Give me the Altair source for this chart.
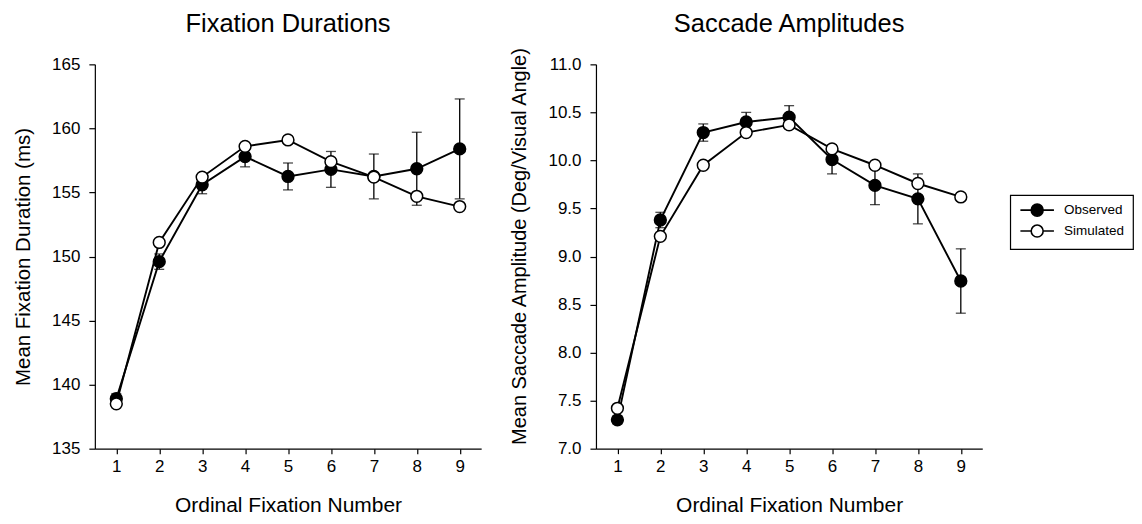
import altair as alt
import pandas as pd

# ---------------- data ----------------
fixation_numbers = [1, 2, 3, 4, 5, 6, 7, 8, 9]

fix_observed = [138.9, 149.6, 155.6, 157.8, 156.25, 156.8, 156.25, 156.85, 158.4]
fix_observed_err = [0.4, 0.6, 0.7, 0.8, 1.05, 1.4, 1.75, 2.85, 3.9]
fix_simulated = [138.5, 151.1, 156.2, 158.6, 159.1, 157.4, 156.2, 154.7, 153.9]

sac_observed = [7.30, 9.38, 10.29, 10.40, 10.45, 10.01, 9.74, 9.60, 8.745]
sac_observed_err = [0.04, 0.08, 0.09, 0.10, 0.12, 0.15, 0.20, 0.26, 0.335]
sac_simulated = [7.42, 9.21, 9.95, 10.29, 10.37, 10.12, 9.95, 9.76, 9.62]

series_names = ["Observed", "Simulated"]
fix_ticks = [135, 140, 145, 150, 155, 160, 165]
sac_ticks = [7.0, 7.5, 8.0, 8.5, 9.0, 9.5, 10.0, 10.5, 11.0]


def build_frame(obs, obs_err, sim):
    rows = []
    for x, v, e in zip(fixation_numbers, obs, obs_err):
        rows.append({"x": x, "y": v, "err": e, "series": "Observed"})
    for x, v in zip(fixation_numbers, sim):
        rows.append({"x": x, "y": v, "err": None, "series": "Simulated"})
    return pd.DataFrame(rows)


fix_df = build_frame(fix_observed, fix_observed_err, fix_simulated)
sac_df = build_frame(sac_observed, sac_observed_err, sac_simulated)

FONT = "Liberation Sans"
LEGEND_PATH = "M-2.8,0L-1,0M1,0L2.8,0M-1,0A1,1,0,1,1,1,0A1,1,0,1,1,-1,0Z"


def panel(df, title, ytitle, ydomain, yvalues, fmt, ytitle_size, title_offset, ytitle_y=None):
    xenc = alt.X(
        "x:Q",
        scale=alt.Scale(domain=[0.5, 9.5], nice=False, zero=False),
        axis=alt.Axis(values=fixation_numbers, format="d", title="Ordinal Fixation Number",
                      tickSize=5, labelPadding=5, titlePadding=20),
    )
    axis_kw = dict(values=yvalues, format=fmt, title=ytitle, titleFontSize=ytitle_size,
                   tickSize=6, labelPadding=9, titlePadding=18)
    if ytitle_y is not None:
        axis_kw["titleY"] = ytitle_y
    yenc = alt.Y("y:Q", scale=alt.Scale(domain=ydomain, nice=False, zero=False),
                 axis=alt.Axis(**axis_kw))

    base = alt.Chart(df)
    err = base.transform_filter("datum.series == 'Observed'").mark_errorbar(
        ticks={"size": 10}, color="black", thickness=1.3
    ).encode(x=xenc, y=yenc, yError="err:Q")

    line = base.mark_line(color="black", strokeWidth=1.9).encode(
        x=xenc, y=yenc, detail="series:N"
    )

    pts = base.mark_point(
        shape="circle", filled=True, size=140, stroke="black", strokeWidth=1.5, opacity=1
    ).encode(
        x=xenc,
        y=yenc,
        fill=alt.Fill(
            "series:N",
            scale=alt.Scale(domain=series_names, range=["black", "white"]),
            legend=alt.Legend(
                title=None,
                orient="none",
                legendX=917,
                legendY=131,
                symbolType=LEGEND_PATH,
                symbolSize=144,
                symbolStrokeColor="black",
                symbolStrokeWidth=1.6,
                symbolOffset=12,
                labelOffset=20,
                labelFont=FONT,
                labelFontSize=13.5,
                labelColor="black",
                strokeColor="black",
                padding=8,
                rowPadding=1,
            ),
        ),
    )

    return alt.layer(err, line, pts).properties(
        width=387,
        height=385,
        title=alt.TitleParams(
            title, font=FONT, fontSize=25.5, fontWeight="normal", color="black",
            anchor="middle", frame="group", offset=title_offset
        ),
    )


left = panel(fix_df, "Fixation Durations", "Mean Fixation Duration (ms)",
             [135, 165], fix_ticks, "d", 20.5, 18)
right = panel(sac_df, "Saccade Amplitudes", "Mean Saccade Amplitude (Deg/Visual Angle)",
              [7.0, 11.0], sac_ticks, ".1f", 20, 9, ytitle_y=182)

chart = alt.hconcat(left, right, spacing=28).properties(
    padding={"left": 5, "top": 3, "right": 0, "bottom": 5}
).configure_view(stroke=None).configure_axis(
    grid=False,
    domainColor="black",
    domainWidth=1.2,
    tickColor="black",
    tickWidth=1.2,
    labelFont=FONT,
    labelFontSize=17,
    labelColor="black",
    titleFont=FONT,
    titleFontSize=21,
    titleFontWeight="normal",
    titleColor="black",
).configure_legend(strokeWidth=1.2)

chart.save("out.html", embed_options={"renderer": "svg", "actions": False})
